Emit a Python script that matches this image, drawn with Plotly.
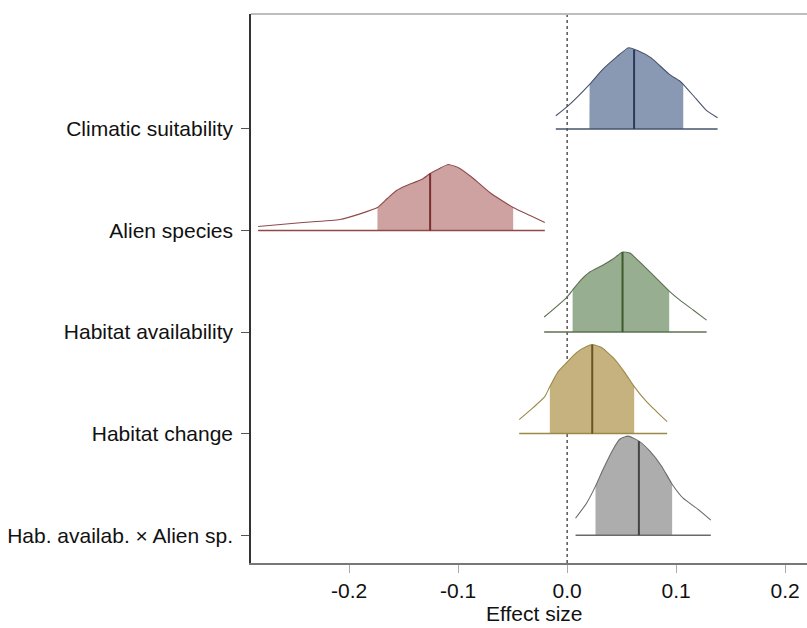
import numpy as np
import plotly.graph_objects as go

categories = ["Climatic suitability", "Alien species", "Habitat availability",
              "Habitat change", "Hab. availab. × Alien sp."]
positions = [5, 4, 3, 2, 1]

clim_x = [-0.0104, 0.0, 0.0206, 0.032, 0.0455, 0.0564, 0.065, 0.077, 0.0935, 0.1035, 0.1065, 0.118, 0.128, 0.138]
clim_d = [0.13, 0.22, 0.44, 0.58, 0.71, 0.80, 0.77, 0.70, 0.54, 0.47, 0.44, 0.30, 0.18, 0.11]

alien_x = [-0.2835, -0.245, -0.2085, -0.19, -0.174, -0.165, -0.1565, -0.1473, -0.1336, -0.1257, -0.117,
           -0.109, -0.0984, -0.086, -0.071, -0.0495, -0.034, -0.0205]
alien_d = [0.04, 0.076, 0.108, 0.164, 0.226, 0.315, 0.394, 0.443, 0.502, 0.561, 0.611,
           0.65, 0.611, 0.512, 0.374, 0.226, 0.148, 0.079]

hab_x = [-0.0211, 0.0, 0.005, 0.0117, 0.0208, 0.033, 0.042, 0.0508, 0.0575, 0.0667, 0.0789, 0.0936, 0.1034, 0.1156, 0.1279]
hab_d = [0.148, 0.345, 0.414, 0.502, 0.591, 0.66, 0.719, 0.788, 0.778, 0.689, 0.561, 0.404, 0.315, 0.217, 0.118]

chg_x = [-0.044, -0.0312, -0.0205, -0.0159, -0.0083, -0.0006, 0.0086, 0.0178, 0.023, 0.0315, 0.0422, 0.0529,
         0.0615, 0.0728, 0.082, 0.0917]
chg_d = [0.138, 0.256, 0.364, 0.463, 0.611, 0.699, 0.798, 0.857, 0.876, 0.847, 0.748, 0.601,
         0.463, 0.315, 0.217, 0.118]

int_x = [0.0077, 0.0178, 0.026, 0.033, 0.0422, 0.0483, 0.056, 0.0658, 0.0759, 0.0866, 0.0963, 0.1064, 0.1187, 0.1318]
int_d = [0.167, 0.315, 0.483, 0.65, 0.847, 0.945, 0.975, 0.926, 0.827, 0.679, 0.502, 0.364, 0.266, 0.148]

ci_low = [0.0204, -0.174, 0.005, -0.0159, 0.026]
median = [0.0614, -0.1257, 0.0508, 0.023, 0.0658]
ci_high = [0.1065, -0.0495, 0.0936, 0.0615, 0.0963]

fill_colors = ["#8a99b3", "#cfa2a2", "#98ae90", "#c6b27e", "#adadad"]
line_colors = ["#46536e", "#8e4a4a", "#5b7250", "#9a8a48", "#6a6a6a"]
med_colors = ["#2b3a5c", "#7a2e2e", "#3e5a2e", "#6b5420", "#444444"]

series_x = [clim_x, alien_x, hab_x, chg_x, int_x]
series_d = [clim_d, alien_d, hab_d, chg_d, int_d]

fig = go.Figure()

for i in range(5):
    xs = np.array(series_x[i])
    ds = np.array(series_d[i])
    base = positions[i]
    lo, md, hi = ci_low[i], median[i], ci_high[i]
    inside = (xs > lo) & (xs < hi)
    sx = np.concatenate([[lo], xs[inside], [hi]])
    sd = np.concatenate([[np.interp(lo, xs, ds)], ds[inside], [np.interp(hi, xs, ds)]])
    px = np.concatenate([[lo], sx, [hi]])
    py = np.concatenate([[base], base + sd, [base]])
    fig.add_trace(go.Scatter(x=px, y=py, fill="toself", fillcolor=fill_colors[i],
                             mode="lines", line=dict(width=0, color=fill_colors[i]),
                             hoverinfo="skip", showlegend=False))
    fig.add_trace(go.Scatter(x=xs, y=base + ds, mode="lines",
                             line=dict(color=line_colors[i], width=1.1, shape="spline", smoothing=0.5),
                             showlegend=False))
    fig.add_trace(go.Scatter(x=[xs[0], xs[-1]], y=[base, base], mode="lines",
                             line=dict(color=line_colors[i], width=1.5),
                             showlegend=False))
    fig.add_trace(go.Scatter(x=[md, md], y=[base, base + np.interp(md, xs, ds)], mode="lines",
                             line=dict(color=med_colors[i], width=2),
                             showlegend=False))

fig.add_shape(type="line", xref="x", yref="paper", x0=0, x1=0, y0=0, y1=1,
              line=dict(color="#555555", width=1.5, dash="dot"), layer="below")
fig.add_shape(type="line", xref="paper", yref="paper", x0=0, x1=1, y0=1, y1=1,
              line=dict(color="#bdbdbd", width=2))

fig.add_annotation(text="Effect size", xref="x", yref="paper", x=-0.0296, y=0,
                   yshift=-50, yanchor="middle", showarrow=False,
                   font=dict(size=21, color="#111111"))

fig.update_layout(
    width=807, height=628,
    margin=dict(l=251, r=0, t=14, b=65),
    paper_bgcolor="white", plot_bgcolor="white",
    font=dict(family="Liberation Sans, Arial, sans-serif", size=21, color="#111111"),
    xaxis=dict(range=[-0.29, 0.22], tickvals=[-0.2, -0.1, 0.0, 0.1, 0.2],
               ticktext=["-0.2", "-0.1", "0.0", "0.1", "0.2"],
               showgrid=False, zeroline=False, showline=True, linecolor="#777777", linewidth=1.5,
               ticks="outside", ticklen=8, tickcolor="#aaaaaa", tickwidth=1.2),
    yaxis=dict(range=[0.726, 6.132], tickvals=positions, ticktext=categories,
               showgrid=False, zeroline=False, showline=True, linecolor="#333333", linewidth=1.5,
               ticks="outside", ticklen=8, tickcolor="#555555", tickwidth=1.2,
               ticklabelstandoff=4),
)

fig.write_html("out.html")
